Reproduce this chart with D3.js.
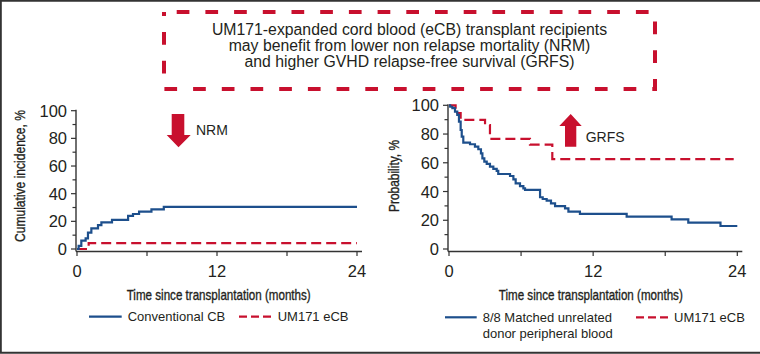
<!DOCTYPE html>
<html>
<head>
<meta charset="utf-8">
<script src="https://cdn.jsdelivr.net/npm/d3@7"></script>
<style>
    body { margin: 0; background: #fff; }
    svg { display: block; }
    text { font-family: "Liberation Sans", Arial, sans-serif; fill: #231f20; }
    .narrow { font-family: "Liberation Sans Narrow", "Liberation Sans", Arial, sans-serif; stroke: #231f20; stroke-width: 0.35; }
</style>
</head>
<body>
<div id="chart"></div>
<script>
// months since transplant where each step starts, and the value from there on
var nrmCbTime = [0, 0.14, 0.37, 0.74, 0.94, 1.23, 1.80, 2.09, 3.0, 4.38, 4.8, 5.32, 6.38, 7.44, 24];
var nrmCbValue = [0, 2.2, 6.0, 7.7, 11.8, 14.9, 17.3, 19.3, 21.0, 23.9, 25.3, 27.0, 28.7, 30.4, 30.4];
var nrmEcbTime = [0, 1.0, 24];
var nrmEcbValue = [0, 4.2, 4.2];

var grfsPbTime = [0, 0.1, 0.28, 0.5, 0.69, 0.83, 0.97, 1.06, 1.19, 1.75, 2.16, 2.44, 2.66, 2.78, 2.94,
    3.14, 3.41, 3.69, 3.97, 4.1, 5.08, 5.36, 5.55, 5.91, 6.19, 6.33, 7.58, 7.8, 8.13, 8.49, 8.83,
    9.66, 9.94, 10.9, 14.79, 18.53, 19.92, 22.6, 24];
var grfsPbValue = [100, 99, 98, 95.6, 93.3, 88.6, 82.8, 78.2, 74, 72.9, 71.2, 69.4, 66.6, 63.1, 60.8,
    59.2, 57.3, 55.7, 54.3, 52.2, 50.8, 48.5, 45.7, 43.8, 42.2, 41.1, 36, 34.8, 33.6, 31.8, 29.9,
    28.3, 26, 24.4, 22.5, 20.6, 18.3, 16.0, 16.0];
var grfsEcbTime = [0, 0.55, 0.97, 3.0, 3.41, 6.74, 8.6, 23.7];
var grfsEcbValue = [100, 94.6, 89.8, 86.3, 76.6, 72.6, 62.6, 62.6];

var xTicks = [0, 6, 12, 18, 24];
var xTickLabels = ["0", "", "12", "", "24"];
var yTicks = [0, 20, 40, 60, 80, 100];
var yMinorTicks = [10, 30, 50, 70, 90];

var headerLines = [
    "UM171-expanded cord blood (eCB) transplant recipients",
    "may benefit from lower non relapse mortality (NRM)",
    "and higher GVHD relapse-free survival (GRFS)"
];

var RED = "#c8102e";
var BLUE = "#1d4f8c";

var width = 760, height = 354;

var svg = d3.select("#chart").append("svg")
    .attr("width", width)
    .attr("height", height);

//frame around the figure (open on the right)
svg.append("path")
    .attr("d", "M760,0.8 H0.8 V352.8 H760")
    .attr("fill", "none")
    .attr("stroke", "#333")
    .attr("stroke-width", 2);

//dashed header box
svg.append("rect")
    .attr("x", 164)
    .attr("y", 12)
    .attr("width", 491)
    .attr("height", 77)
    .attr("fill", "none")
    .attr("stroke", RED)
    .attr("stroke-width", 4)
    .attr("stroke-dasharray", "12.7,16")
    .attr("stroke-dashoffset", 16);

svg.append("g").selectAll("text")
    .data(headerLines)
    .join("text")
    .attr("x", 409.5)
    .attr("y", (d, i) => 35 + i * 16)
    .attr("text-anchor", "middle")
    .attr("font-size", 15.8)
    .text(d => d);

function toPoints(times, values) {
    return times.map((t, i) => [t, values[i]]);
}

function drawPanel(opt) {
    var g = svg.append("g");
    var x = d3.scaleLinear().domain([0, 24]).range([opt.x0, opt.x1]);
    var y = d3.scaleLinear().domain([0, 100]).range([opt.yBottom, opt.yTop]);
    var axisY = opt.yBottom + 2.5;

    //y axis
    g.append("line")
        .attr("x1", opt.x0 - 1).attr("x2", opt.x0 - 1)
        .attr("y1", y(100) - 1).attr("y2", axisY)
        .attr("stroke", "#333").attr("stroke-width", 1.4);
    g.selectAll(".ymaj")
        .data(yTicks)
        .join("line")
        .attr("x1", opt.x0 - 6).attr("x2", opt.x0 - 1)
        .attr("y1", d => y(d)).attr("y2", d => y(d))
        .attr("stroke", "#333").attr("stroke-width", 1.2);
    g.selectAll(".ymin")
        .data(yMinorTicks)
        .join("line")
        .attr("x1", opt.x0 - 4.5).attr("x2", opt.x0 - 1)
        .attr("y1", d => y(d)).attr("y2", d => y(d))
        .attr("stroke", "#333").attr("stroke-width", 1.2);
    g.selectAll(".ylab")
        .data(yTicks)
        .join("text")
        .attr("x", opt.x0 - 10)
        .attr("y", d => y(d) + 6)
        .attr("text-anchor", "end")
        .attr("font-size", 16.5)
        .text(d => d);

    //x axis
    g.append("line")
        .attr("x1", opt.x0 - 1).attr("x2", x(24) + 5)
        .attr("y1", axisY).attr("y2", axisY)
        .attr("stroke", "#333").attr("stroke-width", 1.4);
    g.selectAll(".xtick")
        .data(xTicks)
        .join("line")
        .attr("x1", d => x(d)).attr("x2", d => x(d))
        .attr("y1", axisY).attr("y2", axisY + 4.5)
        .attr("stroke", "#333").attr("stroke-width", 1.2);
    g.selectAll(".xlab")
        .data(xTicks)
        .join("text")
        .attr("x", d => x(d))
        .attr("y", 276.5)
        .attr("text-anchor", "middle")
        .attr("font-size", 16.5)
        .text((d, i) => xTickLabels[i]);

    //axis titles, condensed
    g.append("text")
        .attr("class", "narrow")
        .attr("x", opt.xTitleX)
        .attr("y", 300)
        .attr("text-anchor", "middle")
        .attr("font-size", 15)
        .attr("textLength", 184)
        .attr("lengthAdjust", "spacingAndGlyphs")
        .text("Time since transplantation (months)");
    g.append("text")
        .attr("class", "narrow")
        .attr("transform", "translate(" + (opt.yTitleX) + "," + opt.yTitleY + ") rotate(-90)")
        .attr("text-anchor", "middle")
        .attr("font-size", 14.5)
        .attr("textLength", opt.yTitleLen)
        .attr("lengthAdjust", "spacingAndGlyphs")
        .text(opt.yTitle);

    //step curves
    var line = d3.line()
        .curve(d3.curveStepAfter)
        .x(d => x(d[0]))
        .y(d => y(d[1]));
    opt.series.forEach(function(s) {
        g.append("path")
            .attr("d", line(toPoints(s.time, s.value)))
            .attr("fill", "none")
            .attr("stroke", s.color)
            .attr("stroke-width", 2.2)
            .attr("stroke-dasharray", s.dashed ? "10,5" : null);
    });
    return g;
}

drawPanel({
    x0: 77, x1: 357, yBottom: 249, yTop: 110.7,
    xTitleX: 218.7, yTitleX: 25, yTitleY: 176, yTitleLen: 132,
    yTitle: "Cumulative incidence, %",
    series: [
        {time: nrmEcbTime, value: nrmEcbValue, color: RED, dashed: true},
        {time: nrmCbTime, value: nrmCbValue, color: BLUE, dashed: false}
    ]
});

drawPanel({
    x0: 449, x1: 737.3, yBottom: 249, yTop: 105.3,
    xTitleX: 590.8, yTitleX: 399, yTitleY: 176, yTitleLen: 72,
    yTitle: "Probability, %",
    series: [
        {time: grfsEcbTime, value: grfsEcbValue, color: RED, dashed: true},
        {time: grfsPbTime, value: grfsPbValue, color: BLUE, dashed: false}
    ]
});

//big red arrows
svg.append("path")
    .attr("d", "M171.7,114 H184.3 V135 H190.7 L178.5,147.3 L166.7,135 H171.7 Z")
    .attr("fill", RED);
svg.append("text")
    .attr("x", 196)
    .attr("y", 135)
    .attr("font-size", 14)
    .text("NRM");

svg.append("path")
    .attr("d", "M565,146.7 H576.3 V126 H581.7 L570.7,114 L559.3,126 H565 Z")
    .attr("fill", RED);
svg.append("text")
    .attr("x", 585.7)
    .attr("y", 141.5)
    .attr("font-size", 14)
    .text("GRFS");

//legends
function legendItem(x1, x2, yLine, color, dashed, lines) {
    svg.append("line")
        .attr("x1", x1).attr("x2", x2)
        .attr("y1", yLine).attr("y2", yLine)
        .attr("stroke", color)
        .attr("stroke-width", 2.2)
        .attr("stroke-dasharray", dashed ? "8,4" : null);
    svg.append("g").selectAll("text")
        .data(lines)
        .join("text")
        .attr("x", x2 + 6)
        .attr("y", (d, i) => yLine + 4.5 + i * 16.5)
        .attr("font-size", 13)
        .text(d => d);
}

legendItem(89, 121.7, 316.7, BLUE, false, ["Conventional CB"]);
legendItem(239, 271.7, 316.7, RED, true, ["UM171 eCB"]);
legendItem(445, 476.7, 317.3, BLUE, false, ["8/8 Matched unrelated", "donor peripheral blood"]);
legendItem(636, 668, 317.3, RED, true, ["UM171 eCB"]);
</script>
</body>
</html>
